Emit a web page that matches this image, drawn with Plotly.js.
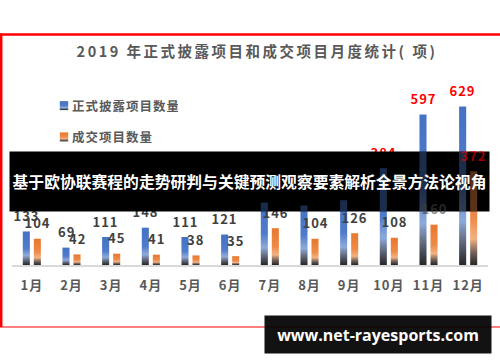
<!DOCTYPE html>
<html>
<head>
<meta charset="utf-8">
<script src="https://cdn.plot.ly/plotly-3.0.1.min.js"></script>
<style>
  html, body { margin: 0; padding: 0; background: #fff; }
  #chart { width: 500px; height: 362px; }
</style>
</head>
<body>
<div id="chart"></div>
<script>
// ---- data ----
const months = ['1月','2月','3月','4月','5月','6月','7月','8月','9月','10月','11月','12月'];
const disclosed = [133, 69, 111, 148, 111, 121, 248, 236, 257, 384, 597, 629];
const deals = [104, 42, 45, 41, 38, 35, 146, 104, 126, 108, 160, 372];
const seriesNames = ['正式披露项目数量', '成交项目数量'];
const redDisclosedMonths = ['10月', '11月', '12月'];
const redDealMonths = ['12月'];
const dimDealMonths = ['11月', '12月'];   // deal labels seen faintly through the banner
const titleText = '2019 年正式披露项目和成交项目月度统计( 项)';
const bannerText = '基于欧协联赛程的走势研判与关键预测观察要素解析全景方法论视角';
const watermarkText = 'www.net-rayesports.com';

// ---- layout helpers (pixel -> paper) ----
const W = 500, H = 362;
const mL = 12, mR = 12, mT = 85, mB = 97;
const pw = W - mL - mR, ph = H - mT - mB;
const px = v => (v - mL) / pw;
const py = v => (H - mB - v) / ph;

const CJK = '"Noto Sans CJK SC", "Noto Sans", sans-serif';
const gray = '#595959';
const labelGray = '#404040';

const traces = [
  { type: 'bar', name: seriesNames[0], x: months, y: disclosed, legendgroup: 'a',
    marker: { color: '#4472C4' }, hoverinfo: 'none' },
  { type: 'bar', name: seriesNames[1], x: months, y: deals, legendgroup: 'b',
    marker: { color: '#ED7D31' }, hoverinfo: 'none' }
];

const labelFont = c => ({ family: CJK, size: 13, weight: 'bold', color: c });
const annotations = [];
const dimLabels = [];
months.forEach((m, i) => {
  annotations.push({ x: m, y: disclosed[i], xref: 'x', yref: 'y', xshift: -5.5, yshift: 16,
    text: String(disclosed[i]), showarrow: false,
    font: labelFont(redDisclosedMonths.includes(m) ? '#FF0000' : labelGray) });
});
months.forEach((m, i) => {
  const a = { x: m, y: deals[i], xref: 'x', yref: 'y', xshift: 5.5, yshift: 16,
    text: String(deals[i]), showarrow: false,
    font: labelFont(redDealMonths.includes(m) ? '#FF0000' : labelGray) };
  if (dimDealMonths.includes(m)) { a.opacity = 0.6; dimLabels.push(a); } else annotations.push(a);
});
annotations.push({ xref: 'paper', yref: 'paper', x: px(249.5), y: py(181.5), xanchor: 'center', yanchor: 'middle',
  width: 479, height: 59, borderpad: 0, bgcolor: '#000000', showarrow: false, name: 'banner',
  text: bannerText, font: { family: CJK, size: 15.8, weight: 'bold', color: '#FFFFFF' } });
dimLabels.forEach(a => annotations.push(a));
annotations.push({ xref: 'paper', yref: 'paper', x: px(378), y: py(334.5), xanchor: 'center', yanchor: 'middle',
  width: 226, height: 37, borderpad: 0, bgcolor: 'rgba(0,0,0,0.93)', showarrow: false,
  text: watermarkText, font: { family: '"Open Sans", sans-serif', size: 16, weight: 'bold', color: '#FFFFFF' } });
const bannerIndex = annotations.findIndex(a => a.name === 'banner');

const shapes = [
  { type: 'line', xref: 'paper', yref: 'paper', x0: px(0), x1: px(500), y0: py(34.5), y1: py(34.5), line: { color: '#FF0000', width: 2.5 } },
  { type: 'line', xref: 'paper', yref: 'paper', x0: px(1.2), x1: px(1.2), y0: py(33.5), y1: py(327), line: { color: '#FF0000', width: 2.5 } },
  { type: 'line', xref: 'paper', yref: 'paper', x0: px(0), x1: px(500), y0: py(327), y1: py(327), line: { color: '#FF0000', width: 1.2 } }
];

const layout = {
  width: W, height: H,
  margin: { l: mL, r: mR, t: mT, b: mB, pad: 0 },
  paper_bgcolor: '#FFFFFF', plot_bgcolor: 'rgba(0,0,0,0)',
  barmode: 'group', bargap: 0.444, bargroupgap: 0.36,
  title: { text: titleText, x: 0.514, xref: 'container', xanchor: 'center', y: 1 - 51.5 / H, yref: 'container', yanchor: 'middle',
    font: { family: CJK, size: 14.5, weight: 'bold', color: gray } },
  xaxis: { type: 'category', showline: true, linecolor: '#D9D9D9', linewidth: 2, ticks: '', showgrid: false, zeroline: false,
    ticklabelstandoff: 7, tickfont: { family: CJK, size: 13, weight: 'bold', color: gray }, fixedrange: true },
  yaxis: { range: [0, 714], showgrid: false, zeroline: false, showticklabels: false, showline: false, ticks: '', fixedrange: true },
  showlegend: true,
  legend: { x: px(32), y: py(91), xanchor: 'left', yanchor: 'top', orientation: 'v', traceorder: 'grouped', tracegroupgap: 12,
    bgcolor: 'rgba(0,0,0,0)', font: { family: CJK, size: 12.5, weight: 'bold', color: gray } },
  annotations: annotations,
  shapes: shapes
};

Plotly.newPlot('chart', traces, layout, { displayModeBar: false, staticPlot: true }).then(gd => {
  const NS = 'http://www.w3.org/2000/svg';
  const defs = gd.querySelector('.main-svg defs');
  const mstr = m => `matrix(${m.a},${m.b},${m.c},${m.d},${m.e},${m.f})`;
  function grad(id, stops) {
    const g = document.createElementNS(NS, 'linearGradient');
    g.setAttribute('id', id);
    g.setAttribute('x1', '0'); g.setAttribute('y1', '0'); g.setAttribute('x2', '0'); g.setAttribute('y2', '1');
    stops.forEach(([o, c]) => {
      const s = document.createElementNS(NS, 'stop');
      s.setAttribute('offset', o); s.setAttribute('stop-color', c);
      g.appendChild(s);
    });
    defs.appendChild(g);
  }
  grad('gBlue', [[0, '#4472C4'], [0.5, '#4F7BCB'], [0.72, '#8EAADB'], [0.86, '#5F6678'], [1, '#262626']]);
  grad('gOrange', [[0, '#E8782F'], [0.5, '#EE8A48'], [0.72, '#F4B183'], [0.86, '#77655A'], [1, '#262626']]);
  const barTraces = gd.querySelectorAll('.barlayer .trace');
  barTraces.forEach((t, k) => {
    t.querySelectorAll('path').forEach(p => { p.style.fill = k === 0 ? 'url(#gBlue)' : 'url(#gOrange)'; });
  });
  gd.querySelectorAll('.legend .traces').forEach((t, k) => {
    t.querySelectorAll('.legendpoints path').forEach(p => {
      p.style.fill = k === 0 ? 'url(#gBlue)' : 'url(#gOrange)';
      p.setAttribute('transform', 'translate(32,0) scale(0.7,0.75)');
    });
    t.querySelectorAll('.legendtext').forEach(tx => tx.style.letterSpacing = '1px');
  });
  const tt = gd.querySelector('.gtitle');
  if (tt) tt.style.letterSpacing = '2.5px';
  gd.querySelectorAll('.xtick text').forEach(tx => tx.style.letterSpacing = '1px');
  gd.querySelectorAll('.annotation text').forEach(tx => {
    if (/^\d+$/.test(tx.textContent.trim())) tx.style.letterSpacing = '1px';
  });

  // faint see-through of bars inside the dark banner
  try {
    const banner = gd.querySelector('.annotation[data-index="' + bannerIndex + '"]');
    const bg = banner.querySelector('rect.bg');
    const parent = bg.parentNode;
    const sr = parent.ownerSVGElement.getBoundingClientRect();
    const r = bg.getBoundingClientRect();
    const cp = document.createElementNS(NS, 'clipPath');
    cp.setAttribute('id', 'bannerClip');
    cp.setAttribute('clipPathUnits', 'userSpaceOnUse');
    const cr = document.createElementNS(NS, 'rect');
    cr.setAttribute('x', r.left - sr.left); cr.setAttribute('y', r.top - sr.top);
    cr.setAttribute('width', r.width); cr.setAttribute('height', r.height);
    cp.appendChild(cr); defs.appendChild(cp);
    const outer = document.createElementNS(NS, 'g');
    outer.setAttribute('transform', mstr(parent.getCTM().inverse()));
    const clipG = document.createElementNS(NS, 'g');
    clipG.setAttribute('clip-path', 'url(#bannerClip)');
    clipG.setAttribute('opacity', '0.38');
    outer.appendChild(clipG);
    const barLayer = gd.querySelector('.barlayer');
    const barsG = document.createElementNS(NS, 'g');
    barsG.setAttribute('transform', mstr(barLayer.getCTM()));
    barTraces.forEach(t => barsG.appendChild(t.cloneNode(true)));
    clipG.appendChild(barsG);
    parent.insertBefore(outer, bg.nextSibling);
  } catch (e) { console.error(e); }
});
</script>
</body>
</html>
